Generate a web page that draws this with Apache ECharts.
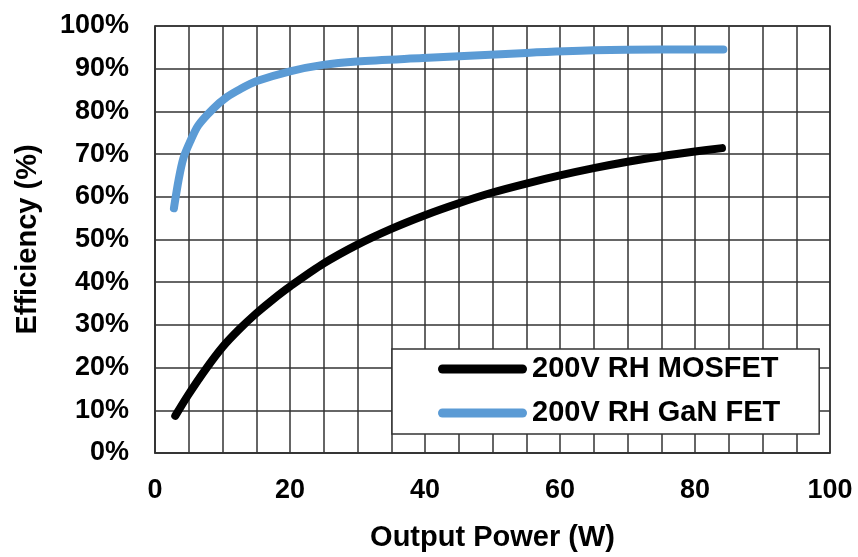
<!DOCTYPE html>
<html>
<head>
<meta charset="utf-8">
<script src="https://cdn.jsdelivr.net/npm/echarts@6/dist/echarts.min.js"></script>
<style>
html,body{margin:0;padding:0;background:#fff;}
#chart{width:858px;height:557px;}
</style>
</head>
<body>
<div id="chart"></div>
<script>
// Output power (W) and efficiency (%)
const mosfetPower = [3, 5, 7.5, 10, 12.5, 15, 17.5, 20, 25, 30, 35, 40, 45, 50, 55, 60, 65, 70, 75, 80, 84];
const mosfetEff   = [8.7, 13.8, 19.6, 24.8, 29.0, 32.7, 36.0, 39.0, 44.4, 48.8, 52.5, 55.7, 58.5, 61.0, 63.1, 65.0, 66.7, 68.2, 69.5, 70.6, 71.4];
const ganPower = [2.8, 3.5, 4.2, 5.2, 6.4, 8.6, 10.6, 12.6, 15.1, 20, 24.9, 29.9, 39.7, 55, 65, 74.8, 84.2];
const ganEff   = [57.3, 64.0, 69.0, 72.9, 76.7, 80.6, 83.3, 85.2, 87.1, 89.4, 90.9, 91.7, 92.5, 93.7, 94.3, 94.5, 94.5];
const xTicks = [0, 20, 40, 60, 80, 100];
const seriesNames = ['200V RH MOSFET', '200V RH GaN FET'];

const zip = (a, b) => a.map((v, i) => [v, b[i]]);
const FONT = '"Liberation Sans", Arial, sans-serif';
const gridLine = { color: '#333', width: 1.5 };
const capsule = 'path://M4.5,0 L84.5,0 A4.5,4.5 0 0 1 84.5,9 L4.5,9 A4.5,4.5 0 0 1 4.5,0 Z';

const chart = echarts.init(document.getElementById('chart'));
chart.setOption({
  animation: false,
  backgroundColor: '#fff',
  grid: { left: 155, right: 28, top: 26, bottom: 98, show: true, borderColor: '#333', borderWidth: 1.5 },
  xAxis: {
    type: 'value', min: 0, max: 100, interval: 5,
    name: 'Output Power (W)', nameLocation: 'middle', nameGap: 70,
    nameTextStyle: { fontFamily: FONT, fontWeight: 'bold', fontSize: 29, color: '#000' },
    axisLine: { show: true, lineStyle: gridLine },
    axisTick: { show: false },
    splitLine: { show: true, lineStyle: gridLine },
    axisLabel: {
      margin: 24, fontFamily: FONT, fontWeight: 'bold', fontSize: 27, color: '#000',
      formatter: v => xTicks.indexOf(v) >= 0 ? String(v) : ''
    }
  },
  yAxis: {
    type: 'value', min: 0, max: 100, interval: 10,
    name: 'Efficiency (%)', nameLocation: 'middle', nameGap: 113,
    nameTextStyle: { fontFamily: FONT, fontWeight: 'bold', fontSize: 29, color: '#000' },
    axisLine: { show: true, lineStyle: gridLine },
    axisTick: { show: false },
    splitLine: { show: true, lineStyle: gridLine },
    axisLabel: { margin: 26, fontFamily: FONT, fontWeight: 'bold', fontSize: 27, color: '#000', formatter: '{value}%' }
  },
  legend: {
    orient: 'vertical', left: 392, top: 349,
    backgroundColor: '#fff', borderColor: '#333', borderWidth: 1.5,
    padding: [5, 39, 6, 46], itemGap: 14,
    itemWidth: 89, itemHeight: 9,
    textStyle: { fontFamily: FONT, fontWeight: 'bold', fontSize: 29, color: '#000', lineHeight: 30 },
    data: [{ name: seriesNames[0], icon: capsule }, { name: seriesNames[1], icon: capsule }]
  },
  series: [
    {
      name: seriesNames[0], type: 'line', data: zip(mosfetPower, mosfetEff),
      smooth: 0.3, showSymbol: false, symbol: 'none',
      color: '#000', lineStyle: { color: '#000', width: 8, cap: 'round', join: 'round' }
    },
    {
      name: seriesNames[1], type: 'line', data: zip(ganPower, ganEff),
      smooth: 0.3, showSymbol: false, symbol: 'none',
      color: '#5b9bd5', lineStyle: { color: '#5b9bd5', width: 8, cap: 'round', join: 'round' }
    }
  ]
});
</script>
</body>
</html>
